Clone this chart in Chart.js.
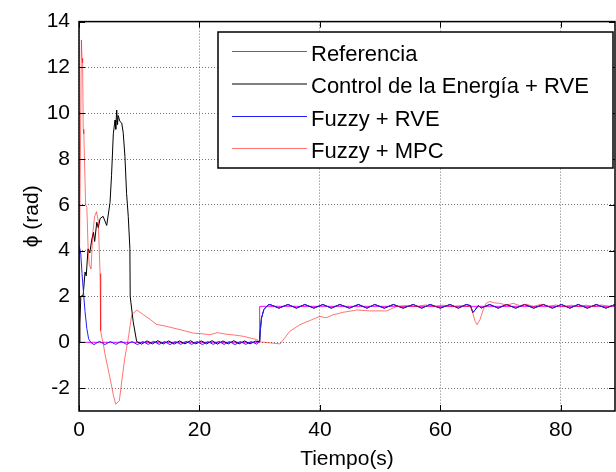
<!DOCTYPE html>
<html>
<head>
<meta charset="utf-8">
<script src="https://cdn.jsdelivr.net/npm/chart.js@4.4.1/dist/chart.umd.min.js"></script>
<style>
    html, body { margin: 0; padding: 0; background: #fff; }
    canvas { display: block; }
</style>
</head>
<body>
<canvas id="phiChart" width="616" height="472"></canvas>
<script>
// values (time in s, phi in rad)
const seriesLabels = ['Referencia', 'Control de la Energía + RVE', 'Fuzzy + RVE', 'Fuzzy + MPC'];

const refTime = [0, 29.99, 30, 89];
const refPhi = [0, 0, 1.57, 1.57];

// common part after the switch at t = 30 s (black and blue lie on top of each other)
const rveTailTime = [30.0, 30.1, 30.3, 30.7, 31.4, 31.7, 33.2, 34.7, 36.1, 37.5, 39.0, 40.5, 41.9, 43.3, 44.9,
    46.4, 47.8, 49.1, 50.7, 52.2, 53.8, 55.5, 56.9, 58.3, 60.0, 61.6, 63.0, 64.3, 65.0, 65.4, 65.8, 66.3,
    66.8, 68.2, 69.6, 71.0, 72.5, 74.0, 75.5, 77.1, 78.6, 80.1, 81.5, 82.9, 84.4, 85.9, 87.5, 89.0];
const rveTailPhi = [0.05, 0.5, 1.05, 1.43, 1.63, 1.65, 1.49, 1.65, 1.49, 1.65, 1.49, 1.65, 1.49, 1.65, 1.49,
    1.65, 1.49, 1.65, 1.49, 1.65, 1.49, 1.65, 1.49, 1.65, 1.49, 1.65, 1.49, 1.65, 1.6, 1.3, 1.42, 1.6,
    1.5, 1.65, 1.49, 1.65, 1.49, 1.65, 1.49, 1.65, 1.49, 1.65, 1.49, 1.65, 1.49, 1.65, 1.49, 1.65];

const energyTime = [0, 0.15, 0.3, 0.7, 1.0, 1.2, 1.5, 1.8, 2.1, 2.4, 2.6, 2.95, 3.2, 3.5, 4.0, 4.6, 5.15, 5.4,
    5.7, 5.98, 6.1, 6.26, 6.4, 6.5, 6.8, 7.1, 7.35, 7.63, 7.9, 8.18, 8.45, 8.5, 9.0, 9.57,
    10.4, 11.3, 12.2, 13.1, 14.0, 14.9, 15.8, 16.7, 17.6, 18.5, 19.4, 20.3, 21.2, 22.1, 23.0, 23.9,
    24.8, 25.7, 26.6, 27.5, 28.4, 29.3, 29.9];
const energyPhi = [0, 0.8, 2.0, 2.07, 3.07, 2.9, 4.08, 3.9, 4.46, 4.8, 4.4, 5.24, 5.0, 5.4, 5.5, 5.1, 6.1, 7.27,
    9.1, 9.7, 9.3, 10.14, 9.5, 9.9, 9.64, 9.57, 9.13, 8.1, 6.5, 5.5, 4.1, 2.0, 0.9, 0.04,
    -0.08, 0.06, -0.07, 0.07, -0.07, 0.06, -0.08, 0.06, -0.07, 0.07, -0.07, 0.06, -0.07, 0.07, -0.08, 0.06,
    -0.07, 0.07, -0.07, 0.06, -0.07, 0.05, 0.03];

const fuzzyTime = [0, 0.05, 0.3, 0.5, 0.8, 1.0, 1.3, 1.6, 2.0, 2.5, 3.4, 4.3, 5.2, 6.1, 7.0, 7.9, 8.8, 9.7,
    10.6, 11.5, 12.4, 13.3, 14.2, 15.1, 16.0, 16.9, 17.8, 18.7, 19.6, 20.5, 21.4, 22.3, 23.2, 24.1,
    25.0, 25.9, 26.8, 27.7, 28.6, 29.5];
const fuzzyPhi = [0, 4.2, 3.85, 3.0, 2.0, 1.34, 0.6, 0.15, -0.02, -0.1, 0.04, -0.1, 0.03, -0.09, 0.04, -0.09, 0.03, -0.1,
    0.03, -0.09, 0.04, -0.09, 0.03, -0.1, 0.03, -0.09, 0.04, -0.09, 0.03, -0.1, 0.03, -0.09, 0.04, -0.09,
    0.03, -0.1, 0.03, -0.09, 0.03, -0.08];

const mpcTime = [0, 0.1, 0.4, 0.5, 0.6, 0.7, 0.8, 1.1, 1.3, 1.5, 1.7, 2.0, 2.3, 2.6, 2.9, 3.2, 3.5, 3.6, 3.8,
    4.0, 4.3, 5.1, 5.7, 6.1, 6.7, 7.1, 7.6, 8.2, 8.75, 9.6, 10.7, 11.8, 12.9, 14.6, 16.8, 19.0, 20.5,
    21.7, 23.0, 24.5, 26.0, 27.3, 29.5, 30.0, 33.4, 35.0, 36.7, 38.6, 40.0, 41.0, 42.2, 43.9, 46.1, 48.3,
    51.1, 52.7, 54.4, 56.0, 57.5, 59.0, 60.5, 62.0, 63.5, 65.0, 65.3, 65.8, 66.1, 66.6, 67.1, 67.6, 68.2,
    69.0, 69.9, 71.0, 72.1, 73.2, 74.3, 75.5, 76.7, 78.0, 79.2, 80.5, 81.7, 83.0, 84.2, 85.5, 86.7, 88.0, 89.0];
const mpcPhi = [0, 4.2, 13.2, 12.4, 12.2, 9.3, 9.1, 6.0, 5.9, 4.2, 3.4, 3.2, 4.8, 5.5, 5.7, 5.3, 3.0, 0.5, 0.2,
    0.0, -0.5, -1.5, -2.3, -2.7, -2.55, -1.7, -0.7, 0.2, 1.2, 1.41, 1.2, 1.0, 0.78, 0.69, 0.55, 0.4, 0.37,
    0.33, 0.42, 0.35, 0.31, 0.26, 0.12, 0.02, -0.07, 0.48, 0.77, 0.98, 1.13, 1.07, 1.2, 1.31, 1.41, 1.37,
    1.37, 1.56, 1.6, 1.55, 1.63, 1.56, 1.62, 1.55, 1.6, 1.55, 1.34, 0.9, 0.77, 1.0, 1.41, 1.7, 1.78,
    1.72, 1.7, 1.62, 1.7, 1.6, 1.66, 1.56, 1.66, 1.57, 1.63, 1.55, 1.62, 1.56, 1.62, 1.55, 1.63, 1.57, 1.63];

const xTicks = [0, 20, 40, 60, 80];
const yTicks = [-2, 0, 2, 4, 6, 8, 10, 12, 14];

const FONT = "'Liberation Sans', Arial, sans-serif";

function toPoints(xs, ys) {
    return xs.map((x, i) => ({ x: x, y: ys[i] }));
}

// axis box with inward tick marks, like the original plot
const boxPlugin = {
    id: 'boxPlugin',
    afterDraw(chart) {
        const { ctx, chartArea: a, scales } = chart;
        const len = 6;
        ctx.save();
        ctx.strokeStyle = '#000';
        ctx.lineWidth = 1;
        ctx.beginPath();
        xTicks.forEach((v) => {
            const px = Math.round(scales.x.getPixelForValue(v)) + 0.5;
            ctx.moveTo(px, a.bottom);
            ctx.lineTo(px, a.bottom - len);
            ctx.moveTo(px, a.top);
            ctx.lineTo(px, a.top + len);
        });
        yTicks.forEach((v) => {
            const py = Math.round(scales.y.getPixelForValue(v)) + 0.5;
            ctx.moveTo(a.left, py);
            ctx.lineTo(a.left + len, py);
            ctx.moveTo(a.right, py);
            ctx.lineTo(a.right - len, py);
        });
        ctx.stroke();
        ctx.lineWidth = 1.5;
        ctx.strokeRect(a.left, a.top, a.right - a.left, a.bottom - a.top);
        ctx.restore();
    },
};

// legend box sitting inside the plot, upper right
const legendPlugin = {
    id: 'legendPlugin',
    afterDraw(chart) {
        const { ctx } = chart;
        const box = { left: 218, top: 32, right: 613, bottom: 168 };
        const rowY = [51, 83.5, 116, 148];
        ctx.save();
        ctx.fillStyle = '#fff';
        ctx.fillRect(box.left, box.top, box.right - box.left, box.bottom - box.top);
        ctx.strokeStyle = '#000';
        ctx.lineWidth = 1.5;
        ctx.strokeRect(box.left, box.top, box.right - box.left, box.bottom - box.top);
        ctx.font = `22px ${FONT}`;
        ctx.textBaseline = 'alphabetic';
        ctx.textAlign = 'left';
        chart.data.datasets.forEach((ds, i) => {
            const y = rowY[i];
            ctx.strokeStyle = ds.borderColor;
            ctx.lineWidth = 1;
            ctx.beginPath();
            ctx.moveTo(232, y + 0.5);
            ctx.lineTo(307, y + 0.5);
            ctx.stroke();
            ctx.fillStyle = '#000';
            ctx.fillText(ds.label, 311, y + 9.5);
        });
        ctx.restore();
    },
};

const gridStyle = {
    color: 'rgba(0, 0, 0, 0.55)',
    lineWidth: 1,
    drawTicks: false,
};

const ctx = document.getElementById('phiChart').getContext('2d');
const phiChart = new Chart(ctx, {
    type: 'line',
    data: {
        datasets: [
            {
                label: seriesLabels[0],
                data: toPoints(refTime, refPhi),
                borderColor: '#ff00ff',
                borderWidth: 1,
                order: 4,
            },
            {
                label: seriesLabels[1],
                data: toPoints(energyTime.concat(rveTailTime), energyPhi.concat(rveTailPhi)),
                borderColor: '#000000',
                borderWidth: 1,
                order: 3,
            },
            {
                label: seriesLabels[2],
                data: toPoints(fuzzyTime.concat(rveTailTime), fuzzyPhi.concat(rveTailPhi)),
                borderColor: '#2020ff',
                borderWidth: 1,
                order: 2,
            },
            {
                label: seriesLabels[3],
                data: toPoints(mpcTime, mpcPhi),
                borderColor: 'rgba(255, 0, 0, 0.55)',
                borderWidth: 1,
                order: 1,
            },
        ],
    },
    options: {
        responsive: false,
        animation: false,
        devicePixelRatio: 1,
        elements: {
            point: { radius: 0 },
            line: { tension: 0 },
        },
        layout: {
            padding: { top: 18, right: 1, left: 0, bottom: 0 },
        },
        plugins: {
            legend: { display: false },
            tooltip: { enabled: false },
        },
        scales: {
            x: {
                type: 'linear',
                min: 0,
                max: 89,
                grid: gridStyle,
                border: { display: false, dash: [1, 2] },
                ticks: {
                    stepSize: 20,
                    includeBounds: false,
                    maxRotation: 0,
                    autoSkip: false,
                    padding: 7,
                    color: '#000',
                    font: { family: FONT, size: 21 },
                },
                title: {
                    display: true,
                    text: 'Tiempo(s)',
                    color: '#000',
                    font: { family: FONT, size: 21 },
                    padding: { top: 0, bottom: 0 },
                },
                afterFit(scale) {
                    scale.height = 61;
                },
            },
            y: {
                type: 'linear',
                min: -3,
                max: 14,
                grid: gridStyle,
                border: { display: false, dash: [1, 2] },
                ticks: {
                    stepSize: 2,
                    includeBounds: false,
                    padding: 9,
                    color: '#000',
                    font: { family: FONT, size: 21 },
                },
                title: {
                    display: true,
                    text: 'ϕ (rad)',
                    color: '#000',
                    font: { family: FONT, size: 21 },
                    padding: { top: 20, bottom: 0 },
                },
                afterFit(scale) {
                    scale.width = 79;
                },
            },
        },
    },
    plugins: [boxPlugin, legendPlugin],
});
</script>
</body>
</html>
